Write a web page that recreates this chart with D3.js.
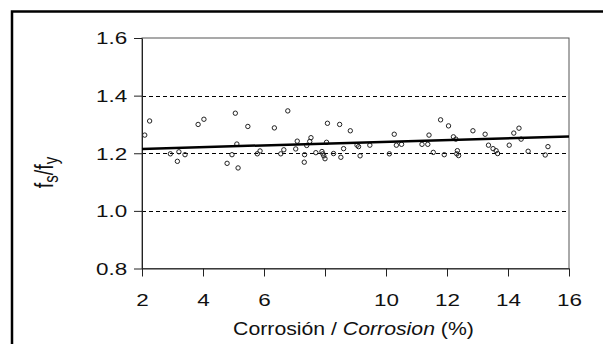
<!DOCTYPE html>
<html><head><meta charset="utf-8">
<script src="https://cdn.jsdelivr.net/npm/d3@7"></script>
<style>
html,body{margin:0;padding:0;background:#fff;}
svg{display:block;font-family:"Liberation Sans",Arial,sans-serif;}
</style></head>
<body>
<svg id="c" width="603" height="344"></svg>
<script>
// Data
const corrosion = [2.09,2.25,2.93,3.16,3.21,3.41,3.84,4.03,4.79,4.95,5.06,5.11,5.15,5.47,5.78,5.87,6.34,6.55,6.65,6.78,7.04,7.09,7.32,7.33,7.40,7.50,7.54,7.70,7.90,7.93,7.96,8.00,8.05,8.08,8.28,8.48,8.52,8.61,8.83,9.05,9.10,9.15,9.47,10.11,10.27,10.34,10.51,11.18,11.37,11.41,11.55,11.79,11.91,12.05,12.21,12.29,12.34,12.32,12.38,12.85,13.25,13.36,13.51,13.61,13.66,14.04,14.19,14.36,14.43,14.66,15.22,15.31];
const ratio = [1.263,1.312,1.198,1.172,1.205,1.195,1.300,1.318,1.165,1.195,1.339,1.232,1.149,1.293,1.198,1.208,1.288,1.198,1.212,1.347,1.215,1.242,1.169,1.195,1.227,1.241,1.254,1.202,1.206,1.198,1.191,1.181,1.238,1.304,1.199,1.300,1.186,1.216,1.278,1.228,1.223,1.191,1.228,1.198,1.266,1.228,1.231,1.231,1.231,1.263,1.203,1.316,1.195,1.295,1.257,1.249,1.209,1.198,1.192,1.278,1.266,1.228,1.216,1.209,1.199,1.228,1.270,1.287,1.249,1.207,1.194,1.223];
const trendX = [2, 16];
const trendY = [1.215, 1.258];
const refLines = [1.0, 1.2, 1.4];
const xTicks = [2,4,6,8,10,12,14,16];
const xTickLabels = ["2","4","6","","10","12","14","16"];
const yTicks = [0.8,1.0,1.2,1.4,1.6];

const svg = d3.select("#c");
const L=142, R=569, T=38, B=268.5;
const SX = 1.32; // horizontal stretch of the reference text
const x = d3.scaleLinear().domain([2,16]).range([L,R]);
const y = d3.scaleLinear().domain([0.8,1.6]).range([B,T]);

// outer frame
svg.append("rect").attr("x",12).attr("y",11.5).attr("width",640).attr("height",400)
  .attr("fill","none").attr("stroke","#000").attr("stroke-width",2.5);

// plot frame (top/right)
svg.append("rect").attr("x",L).attr("y",T).attr("width",R-L).attr("height",B-T)
  .attr("fill","none").attr("stroke","#555").attr("stroke-width",1);

// dashed ref lines
svg.append("g").selectAll("line").data(refLines).join("line")
  .attr("x1",L).attr("x2",R).attr("y1",d=>Math.round(y(d))+0.5).attr("y2",d=>Math.round(y(d))+0.5)
  .attr("stroke","#000").attr("stroke-width",1).attr("stroke-dasharray","4,3");

// axes
const xAxis = d3.axisBottom(x).tickValues(xTicks).tickSize(8).tickSizeOuter(0)
  .tickFormat((d,i)=>xTickLabels[i]);
const gx = svg.append("g").attr("transform",`translate(0,${B})`).call(xAxis);
gx.select(".domain").attr("stroke","#222");
gx.selectAll(".tick line").attr("stroke","#222");
gx.selectAll("text").attr("font-size",17).attr("fill","#111").attr("y",0).attr("dy",0)
  .attr("transform",`translate(0,37.5) scale(${SX},1)`)
  .attr("font-family","Liberation Sans, Arial, sans-serif");

const yAxis = d3.axisLeft(y).tickValues(yTicks).tickSize(8).tickSizeOuter(0).tickFormat(d3.format(".1f"));
const gy = svg.append("g").attr("transform",`translate(${L},0)`).call(yAxis);
gy.select(".domain").attr("stroke","#222");
gy.selectAll(".tick line").attr("stroke","#222");
gy.selectAll("text").attr("font-size",17).attr("fill","#111").attr("x",0).attr("dy","0.35em")
  .attr("transform",`translate(-14.7,0) scale(${SX},1)`)
  .attr("font-family","Liberation Sans, Arial, sans-serif");

// points
svg.append("g").selectAll("circle").data(corrosion).join("circle")
  .attr("cx",(d)=>x(d)).attr("cy",(d,i)=>y(ratio[i])).attr("r",2.2)
  .attr("fill","none").attr("stroke","#222").attr("stroke-width",1);

// trend line
svg.append("line").attr("x1",x(trendX[0])).attr("x2",x(trendX[1]))
  .attr("y1",y(trendY[0])).attr("y2",y(trendY[1]))
  .attr("stroke","#000").attr("stroke-width",2.5);

// y title
const yt = svg.append("text").attr("transform",`translate(53,172.5) rotate(-90) scale(1,${SX})`)
  .attr("text-anchor","middle").attr("font-size",20).attr("fill","#111");
yt.append("tspan").text("f");
yt.append("tspan").text("s").attr("font-size",15).attr("dy",4);
yt.append("tspan").text("/f").attr("dy",-4);
yt.append("tspan").text("y").attr("font-size",15).attr("dy",4);

// x title
const xt = svg.append("text").attr("x",0).attr("y",0)
  .attr("text-anchor","middle").attr("font-size",17.5).attr("fill","#111");
xt.append("tspan").text("Corrosión / ");
xt.append("tspan").text("Corrosion").attr("font-style","italic");
xt.append("tspan").text(" (%)");
const w = xt.node().getComputedTextLength();
xt.attr("transform",`translate(353.5,335) scale(${241/w},1)`);
</script>
</body></html>
